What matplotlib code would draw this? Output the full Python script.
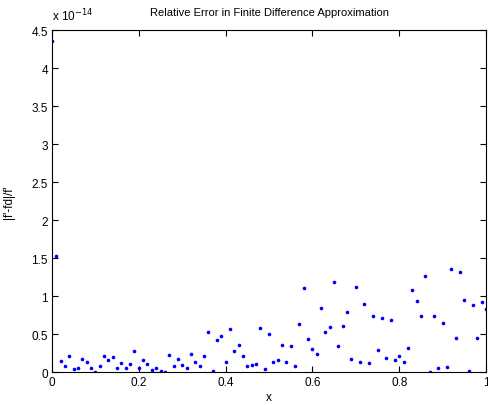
import numpy as np
import matplotlib
matplotlib.use("Agg")
import matplotlib.pyplot as plt
from matplotlib.ticker import FuncFormatter

plt.rcParams['font.family'] = ['Liberation Sans', 'DejaVu Sans']

# sample points 0:0.01:1
x = np.linspace(0, 1, 101)

# relative error, in units of 1e-14
err = [4.35, 1.53, 0.15, 0.08, 0.21, 0.04, 0.06, 0.175, 0.13, 0.05,
       0.01, 0.08, 0.22, 0.16, 0.20, 0.05, 0.12, 0.06, 0.11, 0.28,
       0.05, 0.16, 0.11, 0.03, 0.05, 0.02, 0.00, 0.23, 0.08, 0.18,
       0.10, 0.05, 0.24, 0.13, 0.08, 0.22, 0.53, 0.02, 0.43, 0.48,
       0.14, 0.57, 0.28, 0.355, 0.21, 0.08, 0.10, 0.11, 0.58, 0.04,
       0.50, 0.14, 0.16, 0.36, 0.14, 0.34, 0.08, 0.64, 1.11, 0.44,
       0.31, 0.24, 0.84, 0.53, 0.60, 1.19, 0.34, 0.61, 0.79, 0.17,
       1.12, 0.13, 0.90, 0.12, 0.745, 0.29, 0.72, 0.19, 0.69, 0.16,
       0.21, 0.14, 0.32, 1.08, 0.94, 0.745, 1.27, 0.00, 0.74, 0.05,
       0.65, 0.07, 1.36, 0.455, 1.32, 0.95, 0.02, 0.89, 0.45, 0.92,
       0.83]
y = np.array(err) * 1e-14

xticks = [0, 0.2, 0.4, 0.6, 0.8, 1]
yticks = np.arange(0, 4.51, 0.5) * 1e-14

fig = plt.figure(figsize=(4.88, 4.06), dpi=100)
ax = fig.add_axes([52 / 488, 32.7 / 406, 434 / 488, 342.3 / 406])

ax.plot(x, y, '.', color='blue', markersize=3.2)

ax.set_xlim(0, 1)
ax.set_ylim(0, 4.5e-14)
ax.set_xticks(xticks)
ax.set_yticks(yticks)
ax.xaxis.set_major_formatter(FuncFormatter(lambda v, p: '%g' % round(v, 4)))
ax.yaxis.set_major_formatter(FuncFormatter(lambda v, p: '%g' % round(v / 1e-14, 4)))
ax.tick_params(direction='in', top=True, right=True, length=4, width=0.8,
               labelsize=8.5, pad=3)
for s in ax.spines.values():
    s.set_linewidth(0.8)

ax.text(0, 1.02, r'x 10$^{-14}$', transform=ax.transAxes, fontsize=8.5,
        ha='left', va='bottom')
ax.set_title('Relative Error in Finite Difference Approximation', fontsize=8, pad=11)
ax.set_xlabel('x', fontsize=8.5, labelpad=2)
ax.set_ylabel("|f'-fd|/f'", fontsize=8.5, labelpad=12)

fig.savefig('out.png', dpi=100)
